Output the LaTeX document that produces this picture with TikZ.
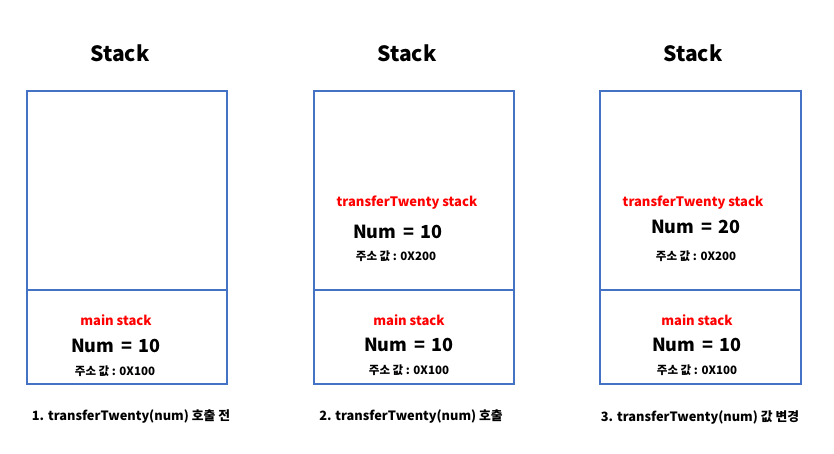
\documentclass[tikz,border=0pt]{standalone}
\usepackage{fontspec}
\setmainfont{Noto Sans CJK KR}
\usepackage{tikz}
\usetikzlibrary{positioning}
\definecolor{stackblue}{RGB}{68, 114, 196}
\definecolor{framered}{RGB}{255, 0, 0}

\tikzset{
    stackbox/.style={draw=stackblue, line width=1.6pt},
    titletext/.style={font=\bfseries\fontsize{21}{24}\selectfont},
    frametext/.style={text=framered, font=\bfseries\fontsize{13}{15}\selectfont},
    numtext/.style={font=\bfseries\fontsize{18}{21}\selectfont},
    addrtext/.style={font=\bfseries\fontsize{11.5}{13}\selectfont},
    captext/.style={font=\bfseries\fontsize{12.8}{15}\selectfont}
}
\newcommand{\numeq}[1]{Num\hspace{0.38em}=\hspace{0.38em}#1}

\begin{document}
\begin{tikzpicture}[x=1pt, y=-1pt]
    \useasboundingbox (0,0) rectangle (834,454);

    % Panel 1: before the call
    \begin{scope}[shift={(27,0)}]
        \node[titletext] (title1) at (93, 53) {Stack};
        \draw[stackbox] (0, 91) rectangle (200, 384);
        \draw[stackbox] (0, 290) -- (200, 290);

        \node[frametext] (main1) at (89, 320) {main stack};
        \node[numtext] (num1) at (89, 346) {\numeq{10}};
        \node[addrtext] (addr1) at (88, 371) {주소 값 : 0X100};

        \node[captext] (cap1) at (104, 417) {1. transferTwenty(num) 호출 전};
    \end{scope}

    % Panel 2: during the call
    \begin{scope}[shift={(314,0)}]
        \node[titletext] (title2) at (93, 53) {Stack};
        \draw[stackbox] (0, 91) rectangle (200, 384);
        \draw[stackbox] (0, 290) -- (200, 290);

        \node[frametext] (frame2) at (93, 203) {transferTwenty stack};
        \node[numtext] (fnum2) at (84, 232) {\numeq{10}};
        \node[addrtext] (faddr2) at (82, 256) {주소 값 : 0X200};

        \node[frametext] (main2) at (95, 320) {main stack};
        \node[numtext] (num2) at (95, 345) {\numeq{10}};
        \node[addrtext] (addr2) at (95, 370) {주소 값 : 0X100};

        \node[captext] (cap2) at (97, 417) {2. transferTwenty(num) 호출};
    \end{scope}

    % Panel 3: value changed
    \begin{scope}[shift={(600,0)}]
        \node[titletext] (title3) at (93, 53) {Stack};
        \draw[stackbox] (0, 91) rectangle (201, 384);
        \draw[stackbox] (0, 290) -- (201, 290);

        \node[frametext] (frame3) at (93, 203) {transferTwenty stack};
        \node[numtext] (fnum3) at (96, 227) {\numeq{20}};
        \node[addrtext] (faddr3) at (96, 256) {주소 값 : 0X200};

        \node[frametext] (main3) at (97, 320) {main stack};
        \node[numtext] (num3) at (97, 345) {\numeq{10}};
        \node[addrtext] (addr3) at (97, 370) {주소 값 : 0X100};

        \node[captext] (cap3) at (100, 417) {3. transferTwenty(num) 값 변경};
    \end{scope}
\end{tikzpicture}
\end{document}
